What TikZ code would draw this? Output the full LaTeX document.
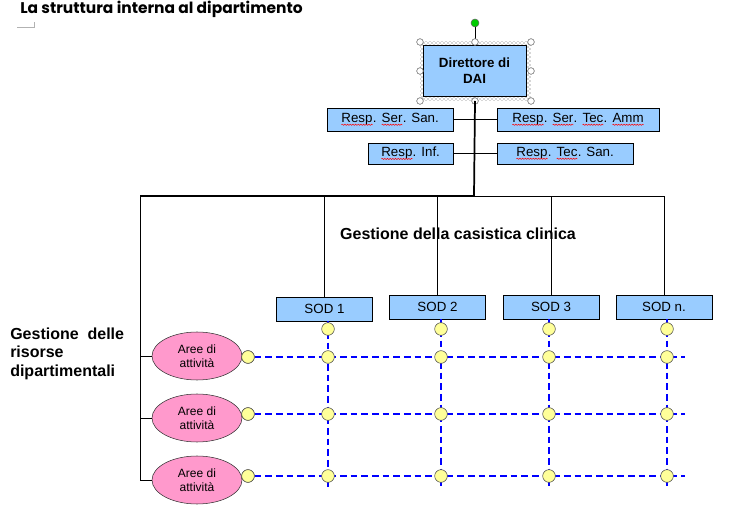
\documentclass[tikz,border=0pt]{standalone}
\usepackage{fontspec}
\setmainfont{Liberation Sans}
\newfontfamily\titlefont{Poppins}
\usetikzlibrary{shapes.geometric, patterns, positioning, decorations.pathmorphing}
\definecolor{boxblue}{HTML}{99CCFF}
\definecolor{areapink}{HTML}{FF99CC}
\definecolor{dotyellow}{HTML}{FFFF99}
\definecolor{gridblue}{HTML}{0000FF}
\definecolor{handlegreen}{HTML}{00CC00}
\newcommand{\spell}[1]{\tikz[baseline=(w.base)]{\node[shape=rectangle, draw=none, fill=none, inner sep=0pt, outer sep=0pt, minimum width=0pt, minimum height=0pt] (w) {#1};%
  \draw[red, line width=0.4pt, decorate, decoration={snake, amplitude=0.45pt, segment length=2pt}] ([yshift=-1.6pt]w.base west) -- ([yshift=-1.6pt]w.base east);}}
\tikzset{
  respbox/.style={rectangle, draw=black, fill=boxblue, inner sep=0pt, minimum height=17.25pt, font=\fontsize{10}{12}\selectfont},
  sodbox/.style={rectangle, draw=black, fill=boxblue, inner sep=0pt, minimum width=72pt, minimum height=18pt, font=\fontsize{10}{12}\selectfont},
  area/.style={ellipse, draw=black!80, fill=areapink, inner sep=0pt, minimum width=67.5pt, minimum height=36pt, align=center, font=\fontsize{9}{10.7}\selectfont},
  dot/.style={circle, draw=black!70, fill=dotyellow, inner sep=0pt, minimum size=9.5pt},
  handle/.style={circle, draw=black!60, fill=white, inner sep=0pt, minimum size=5pt},
  gridline/.style={gridblue, line width=1.3pt, dash pattern=on 5pt off 3pt}
}

\begin{document}
\begin{tikzpicture}[x=0.75pt, y=-0.75pt]
\useasboundingbox (0,0) rectangle (756,523);

% title
\node[anchor=west, inner sep=0pt, font=\titlefont\bfseries\fontsize{11.6}{13}\selectfont] (title) at (20,9) {La struttura interna al dipartimento};
\draw[gray!60] (17,27) -- (34,27) -- (34,22);

% director (selected)
\fill[pattern=crosshatch dots, pattern color=black!70] (420,42) rectangle (531,101);
\node[rectangle, draw=black, fill=boxblue, minimum width=77.25pt, minimum height=38.25pt, inner sep=0pt, align=center, font=\bfseries\fontsize{10}{11.75}\selectfont] (dir) at (474.5,70.5) {Direttore di\\DAI};
\coordinate (rot) at (475,23);
\draw (rot) -- (475,42);
\node[circle, draw=black!60, fill=handlegreen, inner sep=0pt, minimum size=6pt] (rothandle) at (rot) {};
\foreach \hx/\hy in {420/42, 475/42, 531/42, 420/71, 531/71, 420/101, 475/101, 531/101}
  \node[handle] at (\hx,\hy) {};

% responsabili
\node[respbox, minimum width=94.5pt] (rss) at (390,119.5) {\spell{Resp}. \spell{Ser}. San.};
\node[respbox, minimum width=121.5pt] (rsta) at (578,119.5) {\spell{Resp}. \spell{Ser}. \spell{Tec}. \spell{Amm}};
\node[respbox, minimum width=63.75pt, minimum height=15.75pt] (ri) at (410.5,153.5) {\spell{Resp}. Inf.};
\node[respbox, minimum width=102pt, minimum height=15.75pt] (rts) at (565,153.5) {\spell{Resp}. \spell{Tec}. San.};
\draw (rss) -- (rsta);
\draw (ri) -- (rts);

% trunk
\coordinate (hub) at (474,196);
\coordinate (corner) at (140,196);
\coordinate (rightend) at (664,196);
\draw[line width=1.3pt] (475,101) -- (hub);
\draw[line width=2.2pt] (hub) -- (corner);
\draw (hub) -- (rightend);

% SOD
\node[sodbox] (sod1) at (324.5,309) {SOD 1};
\node[sodbox] (sod2) at (437.5,307) {SOD 2};
\node[sodbox] (sod3) at (551,307) {SOD 3};
\node[sodbox] (sod4) at (664,307) {SOD n.};
\foreach \c in {1,...,4}
  \draw (sod\c.north) -- (sod\c.north |- hub);

\node[font=\bfseries\fontsize{12}{14}\selectfont] (casistica) at (458,234) {Gestione della casistica clinica};

% aree di attivita
\node[area] (area1) at (197,356) {Aree di\\attività};
\node[area] (area2) at (197,418) {Aree di\\attività};
\node[area] (area3) at (197,480) {Aree di\\attività};
\draw (corner) |- (area3.west);
\draw (area1.west) -- (area1.west -| corner);
\draw (area2.west) -- (area2.west -| corner);

\node[anchor=west, inner sep=0pt, align=left, font=\bfseries\fontsize{12}{13.9}\selectfont] (risorse) at (10,353.5) {Gestione\ \ delle\\risorse\\dipartimentali};

% grid
\foreach \r/\y in {1/357, 2/414, 3/476} {
  \coordinate (h\r) at (685,\y);
  \node[dot] (a\r) at (248,\y) {};
}
\foreach \c/\x in {1/328, 2/441, 3/549, 4/667} {
  \coordinate (e\c) at (\x,487);
  \draw[gridline] (sod\c.south -| e\c) -- (e\c);
}
\foreach \r in {1,2,3}
  \draw[gridline] (a\r) -- (h\r);
\foreach \c/\x in {1/328, 2/441, 3/549, 4/667}
  \foreach \r/\y in {0/329, 1/357, 2/414, 3/476}
    \node[dot] (d\r\c) at (\x,\y) {};
\foreach \r in {1,2,3}
  \node[dot] at (a\r) {};

\end{tikzpicture}
\end{document}
